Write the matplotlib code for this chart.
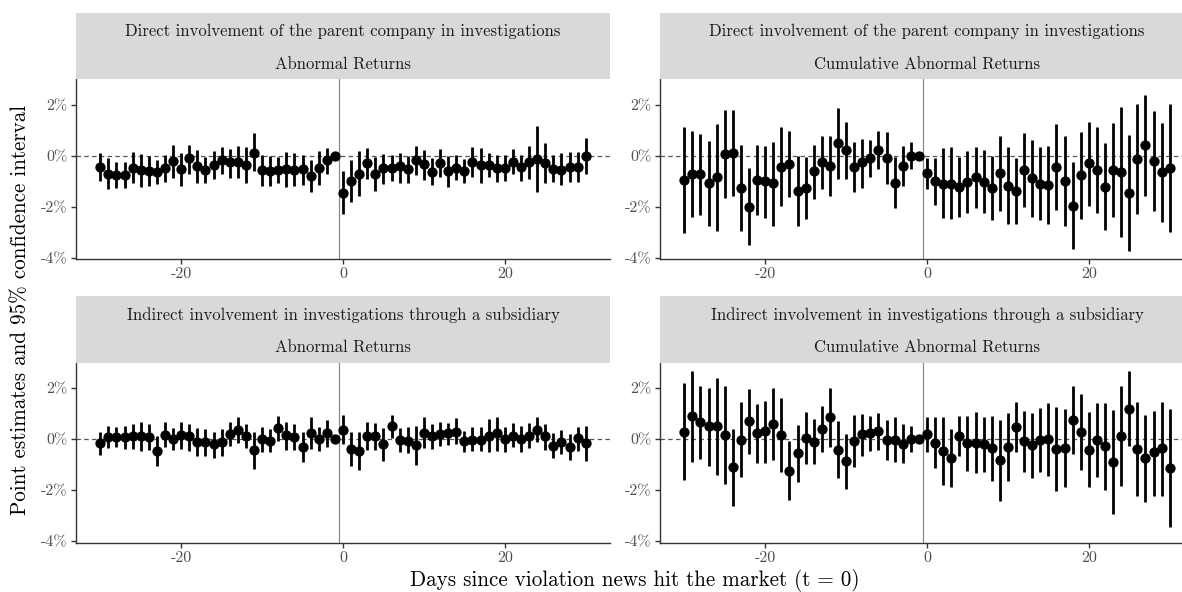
import matplotlib
matplotlib.use("Agg")
import matplotlib.pyplot as plt
import numpy as np

plt.rcParams['font.family'] = ['cmr10', 'DejaVu Serif']
plt.rcParams['lines.scale_dashes'] = False

days = list(range(-30, 31))

panel_titles = [
    ("Direct involvement of the parent company in investigations", "Abnormal Returns"),
    ("Direct involvement of the parent company in investigations", "Cumulative Abnormal Returns"),
    ("Indirect involvement in investigations through a subsidiary", "Abnormal Returns"),
    ("Indirect involvement in investigations through a subsidiary", "Cumulative Abnormal Returns"),
]

# Panel 1: direct, AR (%)
est_dir_ar = [-0.44,-0.71,-0.75,-0.73,-0.46,-0.55,-0.58,-0.63,-0.46,-0.21,-0.52,-0.10,-0.38,-0.56,-0.34,-0.18,-0.24,-0.24,-0.35,0.13,-0.56,-0.58,-0.56,-0.50,-0.55,-0.50,-0.78,-0.47,-0.16,0.00,
              -1.44,-0.98,-0.71,-0.29,-0.71,-0.48,-0.46,-0.39,-0.52,-0.18,-0.31,-0.65,-0.26,-0.61,-0.46,-0.59,-0.22,-0.37,-0.35,-0.48,-0.48,-0.22,-0.44,-0.22,-0.12,-0.29,-0.51,-0.55,-0.42,-0.42,0.00]
hi_dir_ar = [0.10,-0.10,-0.25,-0.22,0.14,0.09,-0.01,-0.16,0.05,0.41,0.12,0.42,0.25,-0.05,0.20,0.33,0.27,0.38,0.34,0.89,0.03,0.01,-0.05,0.17,0.13,0.04,-0.17,0.18,0.31,0.00,
             -0.58,-0.18,0.20,0.30,-0.05,0.08,0.03,0.13,0.00,0.37,0.24,-0.09,0.26,0.00,0.03,-0.13,0.34,0.30,0.13,0.04,0.03,0.26,0.04,0.39,1.18,0.50,0.04,0.10,0.17,0.17,0.69]
lo_dir_ar = [-0.98,-1.29,-1.24,-1.24,-1.08,-1.23,-1.16,-1.12,-1.02,-0.86,-1.18,-0.69,-1.05,-1.08,-0.92,-0.72,-0.85,-0.88,-1.05,-0.61,-1.18,-1.18,-1.08,-1.23,-1.18,-1.15,-1.41,-1.15,-0.69,0.00,
             -2.27,-1.82,-1.57,-0.92,-1.36,-1.12,-0.99,-1.07,-1.05,-0.75,-0.94,-1.14,-0.84,-1.20,-0.94,-1.07,-0.81,-1.07,-0.84,-1.01,-0.97,-0.72,-0.97,-0.90,-1.40,-1.07,-1.01,-1.15,-1.02,-1.03,-0.72]

# Panel 2: direct, CAR (%)
est_dir_car = [-0.94,-0.71,-0.71,-1.07,-0.84,0.08,0.13,-1.24,-1.99,-0.94,-0.98,-1.07,-0.42,-0.33,-1.37,-1.24,-0.59,-0.25,-0.39,0.50,0.24,-0.44,-0.25,-0.08,0.24,-0.07,-1.07,-0.39,0.01,0.00,
               -0.68,-0.98,-1.10,-1.10,-1.23,-1.01,-0.84,-1.01,-1.27,-0.68,-1.16,-1.36,-0.55,-0.88,-1.10,-1.15,-0.44,-0.98,-1.96,-0.76,-0.29,-0.55,-1.20,-0.55,-0.65,-1.46,-0.13,0.41,-0.20,-0.65,-0.47]
hi_dir_car = [1.12,0.98,0.86,0.59,1.24,1.78,1.78,0.43,-0.46,0.42,0.39,0.56,1.12,0.98,0.00,-0.03,0.43,0.76,0.76,1.87,1.32,0.54,0.68,0.63,0.99,0.95,-0.05,0.37,0.56,0.00,
              -0.07,-0.07,0.30,0.34,-0.05,0.21,0.33,0.24,0.01,0.76,0.34,-0.09,0.89,0.63,0.34,0.39,1.25,0.76,-0.25,0.93,1.32,1.14,0.50,1.28,1.90,0.82,2.03,2.37,1.74,1.28,2.03]
lo_dir_car = [-3.03,-2.38,-2.31,-2.75,-2.93,-1.66,-1.57,-2.93,-3.50,-2.31,-2.42,-2.73,-1.96,-1.62,-2.73,-2.48,-1.67,-1.31,-1.59,-0.92,-0.89,-1.42,-1.27,-0.81,-0.52,-1.10,-2.05,-1.16,-0.52,0.00,
              -1.31,-1.92,-2.44,-2.48,-2.41,-2.25,-2.03,-2.25,-2.51,-2.14,-2.67,-2.68,-1.99,-2.38,-2.51,-2.67,-2.12,-2.73,-3.66,-2.47,-1.95,-2.25,-2.90,-2.38,-3.19,-3.73,-2.29,-1.57,-2.14,-2.60,-2.97]

# Panel 3: indirect, AR (%)
est_ind_ar = [-0.14,0.10,0.10,0.10,0.12,0.12,0.10,-0.44,0.18,0.01,0.17,0.12,-0.09,-0.12,-0.20,-0.12,0.21,0.38,0.12,-0.41,0.01,-0.07,0.43,0.17,0.08,-0.31,0.24,0.01,0.24,0.00,
              0.38,-0.38,-0.47,0.12,0.12,-0.18,0.51,-0.03,-0.05,-0.21,0.25,0.12,0.21,0.24,0.30,-0.08,-0.01,-0.01,0.14,0.24,0.01,0.14,0.01,0.14,0.37,0.12,-0.25,-0.09,-0.29,0.04,-0.16]
hi_ind_ar = [0.30,0.54,0.50,0.54,0.60,0.67,0.60,0.12,0.67,0.43,0.69,0.60,0.44,0.41,0.30,0.41,0.67,0.89,0.58,0.30,0.50,0.41,0.93,0.67,0.60,0.30,0.86,0.50,0.76,0.00,
             0.95,0.27,0.27,0.69,0.63,0.44,0.95,0.44,0.50,0.54,0.86,0.60,0.69,0.64,0.82,0.34,0.47,0.47,0.80,0.89,0.50,0.63,0.54,0.63,0.86,0.60,0.25,0.37,0.21,0.50,0.54]
lo_ind_ar = [-0.60,-0.35,-0.31,-0.38,-0.38,-0.44,-0.41,-1.03,-0.31,-0.42,-0.38,-0.44,-0.67,-0.67,-0.75,-0.64,-0.27,-0.14,-0.35,-1.16,-0.48,-0.48,-0.08,-0.41,-0.41,-0.90,-0.38,-0.44,-0.31,0.00,
             -0.18,-1.06,-1.19,-0.42,-0.41,-0.86,0.04,-0.51,-0.55,-1.01,-0.35,-0.38,-0.25,-0.22,-0.18,-0.51,-0.44,-0.44,-0.51,-0.44,-0.48,-0.31,-0.48,-0.34,-0.12,-0.41,-0.75,-0.58,-0.80,-0.44,-0.84]

# Panel 4: indirect, CAR (%)
est_ind_car = [0.30,0.90,0.67,0.51,0.54,0.18,-1.08,-0.01,0.71,0.24,0.31,0.61,0.18,-1.23,-0.54,0.04,-0.09,0.41,0.86,-0.41,-0.86,-0.07,0.21,0.25,0.31,-0.01,-0.01,-0.18,0.00,0.00,
               0.21,-0.14,-0.47,-0.73,0.14,-0.16,-0.13,-0.20,-0.34,-0.81,-0.30,0.50,-0.05,-0.22,-0.01,0.00,-0.38,-0.34,0.77,0.30,-0.41,-0.03,-0.27,-0.88,0.14,1.19,-0.38,-0.73,-0.51,-0.35,-1.12]
hi_ind_car = [2.20,2.67,2.07,2.00,2.39,2.10,0.41,1.45,1.97,1.39,1.49,2.01,1.62,-0.05,0.56,1.06,0.80,1.32,2.00,0.73,0.21,0.97,0.99,0.93,1.03,0.77,0.86,0.58,0.51,0.00,
              0.86,0.86,0.86,0.41,0.93,0.90,1.06,0.86,0.90,0.77,1.03,1.48,1.12,1.03,1.23,1.42,1.28,1.19,2.07,1.78,1.06,1.42,1.42,1.15,2.10,2.67,1.45,0.97,1.12,1.45,1.19]
lo_ind_car = [-1.59,-0.90,-0.77,-1.06,-1.39,-1.75,-2.60,-1.49,-0.58,-0.94,-0.93,-0.80,-1.27,-2.37,-1.66,-0.97,-0.97,-0.51,-0.29,-1.53,-1.95,-1.10,-0.64,-0.44,-0.41,-0.81,-0.90,-0.94,-0.51,0.00,
              -0.48,-1.14,-1.78,-1.86,-0.67,-1.25,-1.32,-1.27,-1.62,-2.41,-1.62,-0.51,-1.27,-1.53,-1.27,-1.42,-2.01,-1.88,-0.58,-1.19,-1.88,-1.49,-1.97,-2.93,-1.82,-0.27,-2.21,-2.44,-2.21,-2.21,-3.45]

panels = [
    (est_dir_ar, lo_dir_ar, hi_dir_ar),
    (est_dir_car, lo_dir_car, hi_dir_car),
    (est_ind_ar, lo_ind_ar, hi_ind_ar),
    (est_ind_car, lo_ind_car, hi_ind_car),
]

x_ticks = [-20, 0, 20]
x_ticklabels = ["-20", "0", "20"]
y_ticks = [-4, -2, 0, 2]
y_ticklabels = ["-4%", "-2%", "0%", "2%"]

W, H = 1182, 592
fig = plt.figure(figsize=(W / 100, H / 100), dpi=100)

ax_lefts = [76, 660, 76, 660]
ax_tops = [79.3, 79.3, 362.7, 362.7]
ax_w, ax_h = 534, 180
strip_h = 66.6

axis_col = '#333333'
tick_txt = '#4D4D4D'

for i, (est, lo, hi) in enumerate(panels):
    l, t = ax_lefts[i], ax_tops[i]
    ax = fig.add_axes([l / W, 1 - (t + ax_h) / H, ax_w / W, ax_h / H])
    ax.axhline(0, color='#555555', lw=0.9, ls=(0, (3.2, 2.4)), zorder=1)
    ax.axvline(-0.5, color='#8a8a8a', lw=0.9, zorder=1)
    ax.vlines(days, lo, hi, color='black', lw=2.0, zorder=2)
    ax.plot(days, est, 'o', color='black', ms=6.4, zorder=3)
    ax.set_xlim(-33, 33)
    ax.set_ylim(-4.05, 3.0)
    ax.set_xticks(x_ticks)
    ax.set_xticklabels(x_ticklabels)
    ax.set_yticks(y_ticks)
    ax.set_yticklabels(y_ticklabels)
    for side in ['top', 'right']:
        ax.spines[side].set_visible(False)
    for side in ['left', 'bottom']:
        ax.spines[side].set_color(axis_col)
        ax.spines[side].set_linewidth(1.0)
    ax.tick_params(axis='both', colors=axis_col, labelcolor=tick_txt, labelsize=11.5,
                   length=3.5, width=1.0, pad=2.5)

    sax = fig.add_axes([l / W, 1 - t / H, ax_w / W, strip_h / H])
    sax.set_facecolor('#D9D9D9')
    sax.set_xticks([])
    sax.set_yticks([])
    for s in sax.spines.values():
        s.set_visible(False)
    line1, line2 = panel_titles[i]
    sax.text(0.5, 0.72, line1, ha='center', va='center', fontsize=12,
             color='#1A1A1A', transform=sax.transAxes)
    sax.text(0.5, 0.225, line2, ha='center', va='center', fontsize=12,
             color='#1A1A1A', transform=sax.transAxes)

fig.text(635 / W, 1 - 581 / H, "Days since violation news hit the market (t = 0)",
         ha='center', va='center', fontsize=15.2, color='black')
fig.text(20 / W, 1 - 310 / H, "Point estimates and 95% confidence interval",
         ha='center', va='center', rotation=90, fontsize=15.2, color='black')

fig.savefig("out.png", dpi=100)
